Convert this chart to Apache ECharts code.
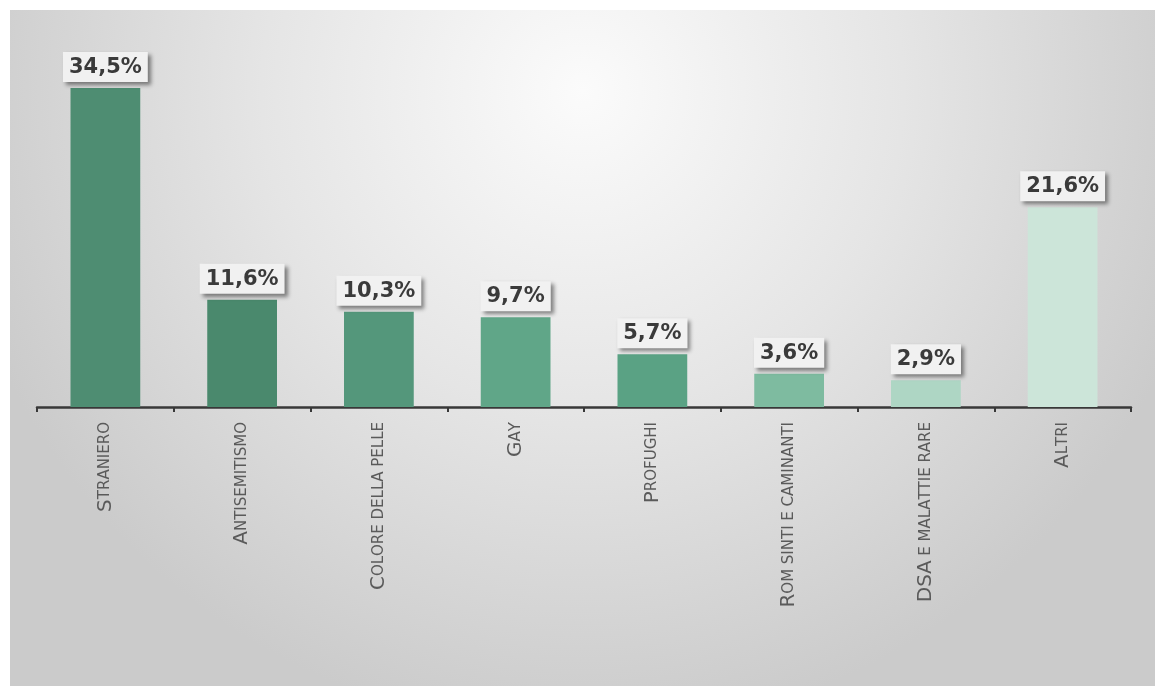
<!DOCTYPE html>
<html>
<head>
<meta charset="utf-8">
<script src="https://cdn.jsdelivr.net/npm/echarts@6/dist/echarts.min.js"></script>
<style>
html,body{margin:0;padding:0;background:#ffffff;width:1155px;height:686px;overflow:hidden;}
#chart{position:absolute;left:10px;top:10px;width:1145px;height:676px;}
</style>
</head>
<body>
<div id="chart"></div>
<script>
const categories = ['Straniero','Antisemitismo','Colore della pelle','Gay','Profughi','Rom sinti e caminanti','DSA e malattie rare','Altri'];
const values = [34.5, 11.6, 10.3, 9.7, 5.7, 3.6, 2.9, 21.6];
const barColors = ['#4e8d72','#4a896d','#54977b','#60a688','#5aa284','#7ebba0','#aed6c4','#cce5d9'];

function smallCaps(s){
  let out = '';
  for (const ch of s){
    if (ch === ' ') { out += '{s| }'; continue; }
    if (ch === ch.toUpperCase() && ch !== ch.toLowerCase()) out += '{b|' + ch + '}';
    else out += '{s|' + ch.toUpperCase() + '}';
  }
  return out;
}

const chart = echarts.init(document.getElementById('chart'));
chart.setOption({
  backgroundColor: {
    type: 'radial', x: 0.5, y: 0.12, r: 0.95,
    colorStops: [
      {offset: 0, color: '#fbfbfb'},
      {offset: 0.5, color: '#e5e5e5'},
      {offset: 1, color: '#cbcbcb'}
    ]
  },
  animation: false,
  grid: {left: 27, right: 24, top: 27, bottom: 279, containLabel: false},
  xAxis: {
    type: 'category',
    data: categories,
    axisLine: {lineStyle: {color: '#383838', width: 2.5}},
    axisTick: {show: true, length: 5, lineStyle: {color: '#383838', width: 2}},
    axisLabel: {
      rotate: 90,
      margin: 15,
      color: '#5a5a5a',
      fontFamily: 'DejaVu Sans',
      formatter: v => smallCaps(v),
      rich: {
        b: {fontSize: 20, color: '#5a5a5a', fontFamily: 'DejaVu Sans'},
        s: {fontSize: 15, color: '#5a5a5a', fontFamily: 'DejaVu Sans'}
      }
    }
  },
  yAxis: {
    type: 'value', min: 0, max: 40,
    show: false,
    splitLine: {show: false}
  },
  series: [{
    type: 'bar',
    data: values.map((v, i) => ({value: v, itemStyle: {color: barColors[i]}})),
    barWidth: '51%',
    label: {
      show: true,
      position: 'top',
      distance: 6,
      formatter: p => p.value.toFixed(1).replace('.', ',') + '%',
      fontFamily: 'DejaVu Sans',
      fontWeight: 'bold',
      fontSize: 21,
      color: '#3a3a3a',
      backgroundColor: '#f1f1f1',
      padding: [5, 6, 4, 6],
      shadowColor: 'rgba(0,0,0,0.45)',
      shadowBlur: 4,
      shadowOffsetX: 3,
      shadowOffsetY: 3
    }
  }]
});
</script>
</body>
</html>
